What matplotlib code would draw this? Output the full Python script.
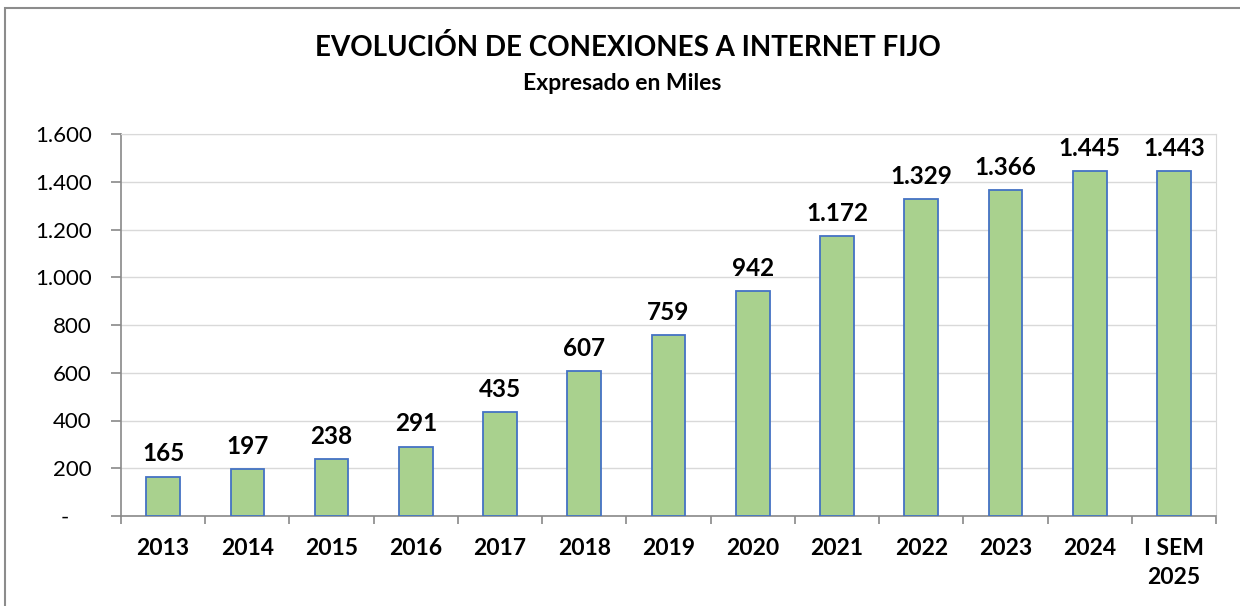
import numpy as np
import matplotlib.pyplot as plt
from matplotlib.patches import Rectangle
from matplotlib.ticker import FixedLocator, FuncFormatter

# Data (thousands of connections)
categories = ['2013', '2014', '2015', '2016', '2017', '2018', '2019',
              '2020', '2021', '2022', '2023', '2024', 'I SEM\n2025']
connections = [165, 197, 238, 291, 435, 607, 759, 942, 1172, 1329, 1366, 1445, 1443]
y_ticks = [0, 200, 400, 600, 800, 1000, 1200, 1400, 1600]

plt.rcParams['font.family'] = ['Lato', 'DejaVu Sans']


def miles(v, pos=None):
    # Spanish thousands separator, dash for zero (accounting style)
    if v == 0:
        return '-    '
    return f'{int(round(v)):,}'.replace(',', '.')


fig = plt.figure(figsize=(12.4, 6.06), dpi=100)
ax = fig.add_axes([121 / 1240, 90 / 606, (1216 - 121) / 1240, (516 - 134) / 606])

x = np.arange(len(categories))
ax.bar(x, connections, width=0.40, color='#A9D18E', edgecolor='#4472C4',
       linewidth=1.3, zorder=3)

for xi, v in zip(x, connections):
    ax.annotate(miles(v), (xi, v), xytext=(0, 8), textcoords='offset points',
                ha='center', va='bottom', fontsize=17.5, fontweight='bold')

ax.set_xlim(-0.5, len(categories) - 0.5)
ax.set_ylim(0, 1600)
ax.yaxis.set_major_locator(FixedLocator(y_ticks))
ax.yaxis.set_major_formatter(FuncFormatter(miles))
ax.grid(axis='y', color='#D9D9D9', linewidth=1.0, zorder=0)

ax.set_xticks(x)
ax.set_xticklabels(categories, fontsize=16.5, fontweight='bold', linespacing=1.45)
ax.xaxis.set_minor_locator(FixedLocator(np.arange(-0.5, len(categories), 1.0)))
ax.tick_params(axis='x', which='major', length=0, pad=16)
ax.tick_params(axis='x', which='minor', length=6, color='#898989', width=1.2)
ax.tick_params(axis='y', length=7, color='#898989', width=1.2, labelsize=16, pad=14)

ax.spines['left'].set_color('#898989')
ax.spines['bottom'].set_color('#898989')
ax.spines['left'].set_linewidth(1.2)
ax.spines['bottom'].set_linewidth(1.2)
ax.spines['top'].set_color('#D9D9D9')
ax.spines['right'].set_color('#D9D9D9')

fig.text(628 / 1240, 1 - 47 / 606, 'EVOLUCIÓN DE CONEXIONES A INTERNET FIJO',
         ha='center', va='center', fontsize=20, fontweight='bold')
fig.text(622 / 1240, 1 - 84 / 606, 'Expresado en Miles',
         ha='center', va='center', fontsize=16.5, fontweight='bold')

# outer chart border
fig.patches.append(Rectangle((5 / 1240, -0.1), 1.2, 1.1 - 8 / 606,
                             transform=fig.transFigure, fill=False,
                             edgecolor='#8C8C8C', linewidth=1.5))

fig.savefig('out.png', dpi=100)
